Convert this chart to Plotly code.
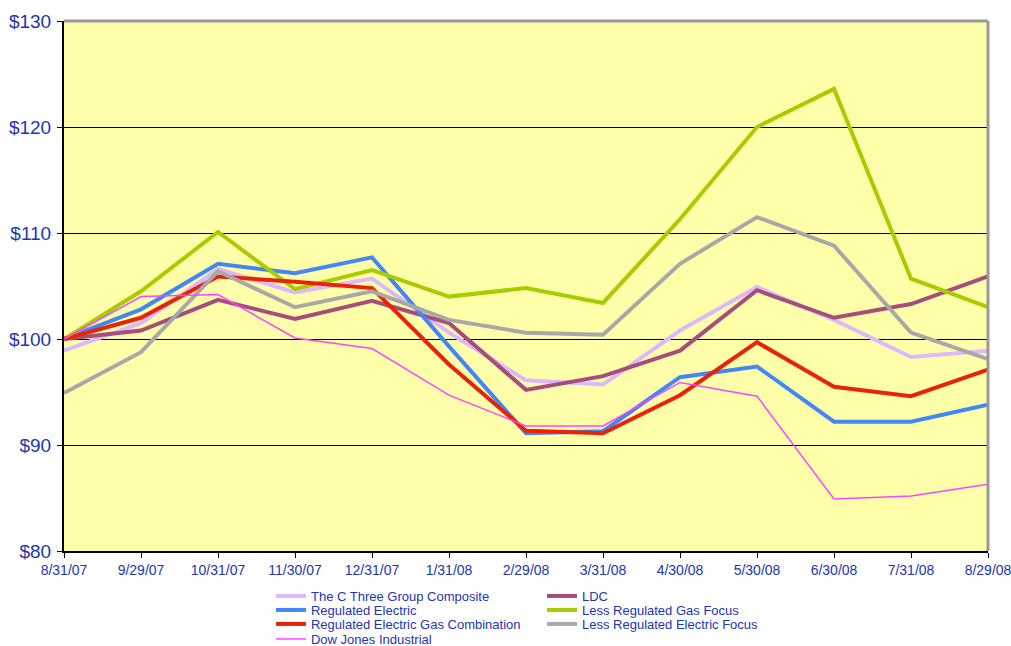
import plotly.graph_objects as go

dates = ["8/31/07", "9/29/07", "10/31/07", "11/30/07", "12/31/07", "1/31/08", "2/29/08",
         "3/31/08", "4/30/08", "5/30/08", "6/30/08", "7/31/08", "8/29/08"]

composite = [98.9, 101.5, 106.6, 104.4, 105.7, 100.6, 96.1, 95.7, 100.8, 104.9, 101.8, 98.3, 98.9]
ldc = [100.0, 100.8, 103.7, 101.9, 103.6, 101.5, 95.2, 96.5, 98.9, 104.6, 102.0, 103.3, 105.9]
reg_elec = [100.0, 102.8, 107.1, 106.2, 107.7, 99.3, 91.1, 91.3, 96.4, 97.4, 92.2, 92.2, 93.8]
lr_gas = [100.0, 104.5, 110.1, 104.7, 106.5, 104.0, 104.8, 103.4, 111.3, 120.0, 123.6, 105.7, 103.0]
reg_elec_gas = [100.0, 102.0, 105.9, 105.4, 104.8, 97.6, 91.35, 91.1, 94.7, 99.7, 95.5, 94.6, 97.1]
lr_elec = [94.9, 98.75, 106.4, 103.0, 104.5, 101.8, 100.6, 100.4, 107.1, 111.5, 108.8, 100.6, 98.1]
dow = [100.0, 104.0, 104.2, 100.1, 99.1, 94.7, 91.8, 91.8, 95.9, 94.6, 84.9, 85.2, 86.3]

names = ["The C Three Group Composite", "LDC", "Regulated Electric", "Less Regulated Gas Focus",
         "Regulated Electric Gas Combination", "Less Regulated Electric Focus", "Dow Jones Industrial"]
series = [composite, ldc, reg_elec, lr_gas, reg_elec_gas, lr_elec, dow]
colors = ["#DDB8FF", "#A64D7C", "#4287F5", "#A8CC00", "#E8230A", "#A8A8A8", "#FF44FF"]
widths = [4, 4, 4, 4, 4, 4, 1.5]

TEXT = "#2236AE"
FONT = "Liberation Sans, Arial, sans-serif"

# legend slots (column, row) in the reference layout
slots = [(0, 0), (1, 0), (0, 1), (1, 1), (0, 2), (1, 2), (0, 3)]
col_x = [0.2240, 0.5173]
row_y = [-0.0849, -0.1113, -0.1377, -0.1660]

fig = go.Figure()
layout_legends = {}
for i, (nm, vals, c, w) in enumerate(zip(names, series, colors, widths)):
    key = "legend" if i == 0 else f"legend{i+1}"
    fig.add_trace(go.Scatter(x=dates, y=vals, name=nm, mode="lines",
                             line=dict(color=c, width=w), legend=key, showlegend=True))
    col, row = slots[i]
    layout_legends[key] = dict(x=col_x[col], y=row_y[row], xanchor="left", yanchor="middle",
                               bgcolor="rgba(0,0,0,0)", borderwidth=0,
                               font=dict(family=FONT, size=13, color=TEXT))

fig.update_layout(
    width=1011, height=646,
    margin=dict(l=64, r=23, t=21, b=95, autoexpand=False),
    showlegend=True,
    paper_bgcolor="white",
    plot_bgcolor="#FFFFAA",
    font=dict(family=FONT, color=TEXT),
    **layout_legends,
)
fig.update_xaxes(type="category", range=[0, 12], showgrid=False,
                 showline=True, linecolor="black", linewidth=2,
                 ticks="outside", ticklen=5, tickcolor="black", tickwidth=1,
                 tickfont=dict(family=FONT, size=14, color=TEXT), automargin=False)
fig.update_yaxes(range=[80, 130], dtick=10, tickprefix="$",
                 showgrid=True, gridcolor="black", gridwidth=1,
                 showline=True, linecolor="black", linewidth=2,
                 ticks="outside", ticklen=5, tickcolor="black", tickwidth=1,
                 ticklabelstandoff=2,
                 tickfont=dict(family=FONT, size=19, color=TEXT), zeroline=False,
                 automargin=False)

# gray frame on top and right of plot area
fig.add_shape(type="line", xref="paper", yref="paper", x0=0, x1=1, y0=1, y1=1,
              line=dict(color="#999999", width=3))
fig.add_shape(type="line", xref="paper", yref="paper", x0=1, x1=1, y0=0, y1=1,
              line=dict(color="#999999", width=3))

# remove the default page margin so the 1011x646 figure fills the window exactly
fig.write_html(
    "out.html",
    config={"displayModeBar": False},
    post_script="document.body.style.margin='0';"
                "document.documentElement.style.overflow='hidden';",
)
